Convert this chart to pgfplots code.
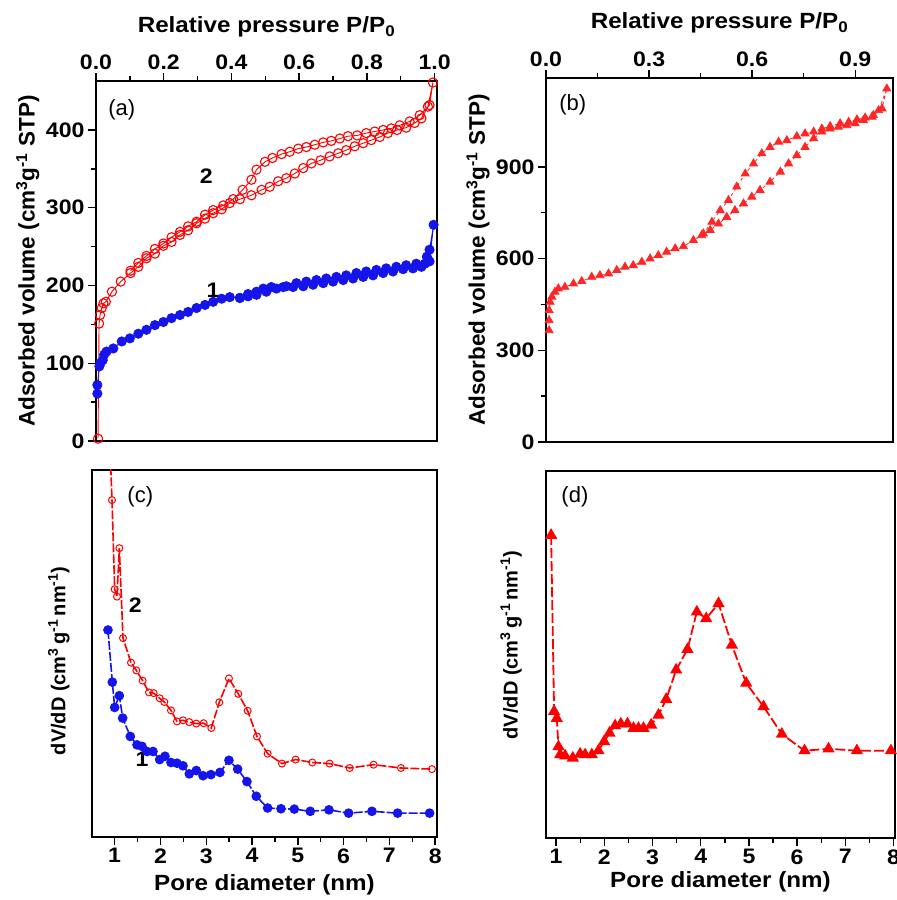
\documentclass[border=0pt]{standalone}
\usepackage{fontspec}
\setmainfont{Liberation Sans}
\newfontfamily\hfont{Liberation Sans}[FakeStretch=1.1]
\usepackage{pgfplots}
\pgfplotsset{compat=1.18}
\definecolor{myblue}{RGB}{20,20,235}
\definecolor{myred}{RGB}{255,0,0}
\pgfplotsset{
 myaxis/.style={
  scale only axis,
  axis line style={line width=1.6pt},
  every tick/.style={black, line width=1.4pt},
  tick align=outside,
  major tick length=8pt,
  minor tick length=5pt,
  tick label style={font=\hfont\bfseries\fontsize{21}{21}\selectfont},
  xlabel style={font=\hfont\bfseries\fontsize{22}{25}\selectfont},
  ylabel style={font=\bfseries\fontsize{22.5}{25}\selectfont},
  /pgf/number format/assume math mode=true,
 }
}
\begin{document}
\begin{tikzpicture}
\useasboundingbox (0,0) rectangle (897pt,900pt);
% ---------------- (a)
\begin{axis}[myaxis, at={(96pt,459pt)}, anchor=south west, width=341pt, height=360pt,
  xmin=0, xmax=1.007, ymin=0, ymax=463,
  xtick={0,0.2,0.4,0.6,0.8,1.0}, minor x tick num=1,
  ytick={0,100,200,300,400}, minor y tick num=1,
  xtick pos=right, xticklabel pos=right, ytick pos=left,
  xticklabel style={/pgf/number format/.cd, fixed, fixed zerofill, precision=1},
  yticklabel style={/pgf/number format/.cd, fixed, precision=0},
  xlabel={Relative pressure P/P\textsubscript{0}},
  xlabel style={at={(axis description cs:0.5,1.15)}, anchor=center},
  ylabel={Adsorbed volume (cm\textsuperscript{3}g\textsuperscript{-1} STP)},
  ylabel style={at={(axis description cs:-0.2,0.5)}, anchor=center},
  clip=false]
\addplot[myred, line width=0.9pt, mark=o, mark size=4.6pt, mark options={solid, line width=1.1pt}] coordinates {
(0.006,3) (0.009,151) (0.012,162) (0.017,171) (0.022,177) (0.029,179) (0.047,192) (0.073,205)
(0.102,216) (0.125,224) (0.149,235) (0.174,241) (0.199,251) (0.223,256) (0.248,265) (0.272,271)
(0.297,280) (0.322,286) (0.346,293) (0.371,298) (0.395,306) (0.425,311) (0.459,316) (0.489,323)
(0.513,327) (0.538,334) (0.562,338) (0.587,344) (0.612,351) (0.636,357) (0.663,361) (0.690,366)
(0.715,370) (0.739,374) (0.764,379) (0.789,383) (0.813,387) (0.838,391) (0.862,396) (0.889,400)
(0.916,403) (0.941,409) (0.961,415) (0.980,430) (0.995,461)
(0.985,432) (0.956,419) (0.926,411) (0.897,406) (0.872,402) (0.848,400) (0.823,398) (0.798,396)
(0.771,393) (0.744,392) (0.720,389) (0.695,386) (0.671,384) (0.646,381) (0.621,378) (0.597,376)
(0.572,372) (0.548,369) (0.521,364) (0.499,359) (0.474,349) (0.459,336) (0.433,323) (0.405,311)
(0.376,303) (0.346,297) (0.322,291) (0.297,282) (0.272,276) (0.248,269) (0.223,262) (0.199,254)
(0.174,247) (0.149,238) (0.125,229) (0.102,219)
};
\addplot[myblue, line width=0.9pt, mark=*, mark size=4.6pt, mark options={solid, fill=myblue}] coordinates {
(0.004,61) (0.004,72) (0.010,96) (0.013,100) (0.020,104) (0.024,111) (0.031,115) (0.051,119)
(0.076,128) (0.100,132) (0.125,138) (0.149,143) (0.174,149) (0.199,153) (0.223,158) (0.248,162)
(0.272,166) (0.297,171) (0.322,175) (0.346,179) (0.371,183) (0.395,185) (0.425,184) (0.449,186)
(0.474,188) (0.503,192) (0.533,196) (0.562,199) (0.592,203) (0.621,205) (0.651,207) (0.680,209)
(0.710,211) (0.739,213) (0.769,216) (0.798,218) (0.828,220) (0.857,222) (0.887,224) (0.916,226)
(0.946,228) (0.971,228) (0.977,237) (0.985,246) (0.997,278)
(0.985,231) (0.961,224) (0.936,222) (0.907,221) (0.877,218) (0.848,216) (0.818,213) (0.789,211)
(0.759,209) (0.730,207) (0.700,205) (0.671,203) (0.641,201) (0.612,199) (0.582,198) (0.553,198)
(0.518,198) (0.494,196) (0.474,192) (0.449,189) (0.425,184)
};
\node[font=\fontsize{22}{22}\selectfont] at (axis cs:0.076,426) {(a)};
\node[font=\hfont\bfseries\fontsize{21}{21}\selectfont] at (axis cs:0.326,340) {2};
\node[font=\hfont\bfseries\fontsize{21}{21}\selectfont] at (axis cs:0.346,194) {1};
\end{axis}
% ---------------- (b)
\begin{axis}[myaxis, at={(546pt,458pt)}, anchor=south west, width=347pt, height=364pt,
  xmin=0, xmax=1.01, ymin=0, ymax=1191,
  xtick={0,0.3,0.6,0.9}, minor x tick num=1,
  ytick={0,300,600,900}, minor y tick num=1,
  xtick pos=right, xticklabel pos=right, ytick pos=left,
  xticklabel style={/pgf/number format/.cd, fixed, fixed zerofill, precision=1},
  yticklabel style={/pgf/number format/.cd, fixed, precision=0},
  xlabel={Relative pressure P/P\textsubscript{0}},
  xlabel style={at={(axis description cs:0.5,1.151)}, anchor=center},
  ylabel={Adsorbed volume (cm\textsuperscript{3}g\textsuperscript{-1} STP)},
  ylabel style={at={(axis description cs:-0.196,0.5)}, anchor=center},
  clip=false]
\addplot[myred!85!white, line width=0.8pt, dashed, mark=triangle*, mark size=4.6pt, mark options={solid, fill=myred!85!white}] coordinates {
(0.009,365) (0.009,398) (0.009,431) (0.012,458) (0.017,475) (0.026,491) (0.036,502) (0.055,507)
(0.080,518) (0.104,526) (0.133,540) (0.157,545) (0.182,551) (0.206,562) (0.230,573) (0.254,578)
(0.279,589) (0.303,600) (0.327,611) (0.351,622) (0.376,633) (0.400,640) (0.429,660) (0.453,676)
(0.478,693) (0.502,714) (0.526,736) (0.550,758) (0.575,780) (0.599,802) (0.623,824) (0.652,851)
(0.682,884) (0.706,911) (0.730,938) (0.754,965) (0.779,993) (0.803,1015) (0.827,1025) (0.851,1031)
(0.876,1036) (0.900,1042) (0.924,1053) (0.949,1064) (0.968,1085) (0.992,1156)
(0.978,1091) (0.953,1069) (0.929,1061) (0.905,1055) (0.881,1047) (0.856,1042) (0.827,1033) (0.803,1025)
(0.779,1015) (0.754,1009) (0.730,1000) (0.701,987) (0.677,982) (0.652,965) (0.628,944) (0.604,911)
(0.580,878) (0.555,835) (0.531,791) (0.507,758) (0.483,720) (0.458,682)
};
\node[font=\fontsize{22}{22}\selectfont] at (axis cs:0.078,1102) {(b)};
\end{axis}
% ---------------- (c)
\begin{axis}[myaxis, at={(92pt,63pt)}, anchor=south west, width=345pt, height=367pt,
  xmin=0.505, xmax=8.04, ymin=0, ymax=100,
  xtick={1,2,3,4,5,6,7,8}, minor x tick num=1,
  ytick=\empty, xtick pos=left,
  xlabel={Pore diameter (nm)},
  xlabel style={at={(axis description cs:0.5,-0.131)}, anchor=center},
  ylabel={dV/dD (cm\textsuperscript{3}\,g\textsuperscript{-1}\,nm\textsuperscript{-1})},
  ylabel style={at={(axis description cs:-0.096,0.48)}, anchor=center, font=\bfseries\fontsize{20}{24}\selectfont}]
\addplot[myred, line width=1.6pt, dash pattern=on 9pt off 2pt, mark=o, mark size=3.5pt, mark options={solid, line width=1pt, fill=white}] coordinates {
(0.905,104) (0.942,91.8) (1.0,67.5) (1.051,65.5) (1.102,78.7) (1.182,54.2) (1.357,47.5) (1.473,45.4)
(1.611,42.6) (1.750,39.4) (1.852,39.2) (1.983,37.8) (2.084,36.8) (2.230,34.5) (2.361,31.5) (2.492,31.8)
(2.630,31.3) (2.783,30.9) (2.943,31.0) (3.111,29.7) (3.285,36.7) (3.496,43.2) (3.700,39.0) (3.904,34.4)
(4.108,27.4) (4.341,22.7) (4.654,20.0) (4.952,21.1) (5.316,20.3) (5.694,20.0) (6.131,18.8) (6.655,19.7)
(7.252,18.8) (7.929,18.5)
};
\addplot[myblue, line width=1.6pt, dash pattern=on 9pt off 2pt, mark=*, mark size=4pt, mark options={solid, fill=myblue}] coordinates {
(0.854,56.4) (0.949,42.2) (1.0,35.3) (1.102,38.5) (1.175,32.4) (1.342,27.4) (1.488,25.1) (1.597,24.7)
(1.706,23.3) (1.837,23.3) (1.983,21.1) (2.099,22.0) (2.230,20.3) (2.361,20.1) (2.492,19.4) (2.630,17.2)
(2.783,18.1) (2.929,16.7) (3.103,17.0) (3.300,17.6) (3.496,20.9) (3.686,18.5) (3.889,15.1) (4.093,11.1)
(4.341,7.9) (4.632,7.7) (4.923,7.6) (5.272,7.0) (5.680,7.4) (6.109,6.5) (6.619,7.0) (7.179,6.5) (7.878,6.5)
};
\node[font=\fontsize{22}{22}\selectfont] at (axis cs:1.56,92.7) {(c)};
\node[font=\hfont\bfseries\fontsize{21}{21}\selectfont] at (axis cs:1.45,63.2) {2};
\node[font=\hfont\bfseries\fontsize{21}{21}\selectfont] at (axis cs:1.6,21.2) {1};
\end{axis}
% ---------------- (d)
\begin{axis}[myaxis, at={(546pt,62pt)}, anchor=south west, width=349pt, height=367pt,
  xmin=0.79, xmax=8.03, ymin=0, ymax=100,
  xtick={1,2,3,4,5,6,7,8}, minor x tick num=1,
  ytick=\empty, xtick pos=left,
  xlabel={Pore diameter (nm)},
  xlabel style={at={(axis description cs:0.5,-0.12)}, anchor=center},
  ylabel={dV/dD (cm\textsuperscript{3}\,g\textsuperscript{-1}\,nm\textsuperscript{-1})},
  ylabel style={at={(axis description cs:-0.1,0.526)}, anchor=center, font=\bfseries\fontsize{20}{24}\selectfont}]
\addplot[myred, line width=1.8pt, dash pattern=on 10pt off 3pt, mark=triangle*, mark size=5.3pt, mark options={solid, fill=myred}] coordinates {
(0.896,82.5) (0.958,34.5) (1.014,32.6) (1.048,24.9) (1.083,22.7) (1.187,22.4) (1.346,21.8) (1.498,22.9)
(1.602,22.7) (1.740,22.7) (1.878,23.8) (1.996,26.3) (2.107,28.6) (2.224,30.6) (2.342,31.1) (2.480,31.1)
(2.605,29.9) (2.709,29.9) (2.812,29.9) (2.971,30.8) (3.124,33.5) (3.283,37.8) (3.490,45.8) (3.725,51.4)
(3.919,61.6) (4.113,59.8) (4.369,63.9) (4.645,52.6) (4.943,42.2) (5.302,35.8) (5.683,28.3) (6.153,23.8)
(6.651,24.3) (7.239,23.8) (7.945,23.8)
};
\node[font=\fontsize{22}{22}\selectfont] at (axis cs:1.39,92.9) {(d)};
\end{axis}
\end{tikzpicture}
\end{document}
